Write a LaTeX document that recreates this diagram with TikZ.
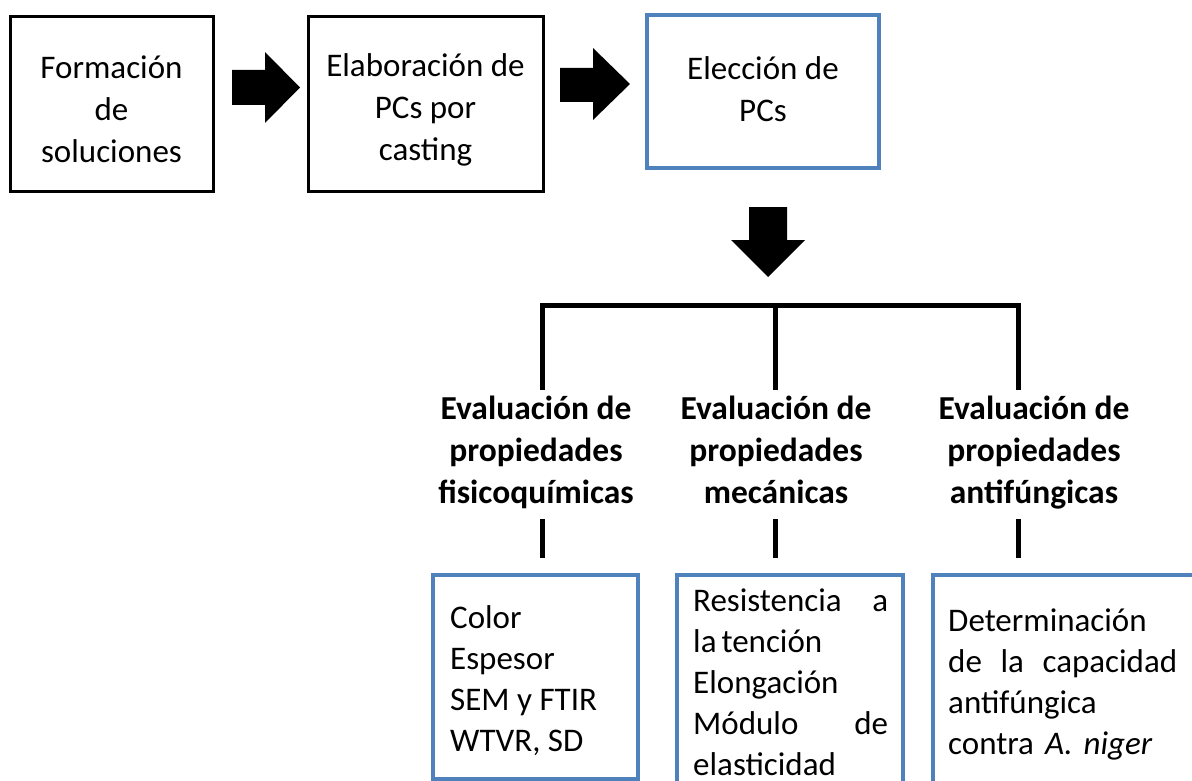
\documentclass[tikz,border=0pt]{standalone}
\usepackage{fontspec}
\setmainfont{Carlito}
\definecolor{boxblue}{RGB}{79,129,189}
\begin{document}
\begin{tikzpicture}[x=1pt,y=-1pt,
  txt/.style={font=\fontsize{33}{42}\selectfont},
  blackbox/.style={draw=black, line width=3pt, inner sep=0pt},
  bluebox/.style={draw=boxblue, line width=4pt, inner sep=0pt},
  boxlabel/.style={txt, align=center, inner sep=0pt},
  head/.style={font=\bfseries\fontsize{33.5}{42}\selectfont, align=center, inner sep=0pt},
  boxtext/.style={font=\fontsize{33}{41}\selectfont, anchor=north west, inner sep=0pt, align=left},
  link/.style={line width=5pt, line join=miter},
  blockarrow/.style={fill=black}]
\useasboundingbox (0,0) rectangle (1192,781);
\clip (0,0) rectangle (1192,781);
\fill[white] (0,0) rectangle (1192,781);

% top row
\node[blackbox, minimum width=203pt, minimum height=175pt] (f) at (111.5,104.5) {};
\node[boxlabel] (fl) at ([yshift=-5pt]f.center) {Formación\\de\\soluciones};
\node[blackbox, minimum width=235pt, minimum height=175pt] (e) at (425.5,104.5) {};
\node[boxlabel] (el) at ([yshift=-5pt]e.center) {Elaboración de\\PCs por\\casting};
\node[bluebox, minimum width=232pt, minimum height=153pt] (c) at (763,91.5) {};
\node[boxlabel] (cl) at ([yshift=2pt]c.center) {Elección de\\PCs};

% block arrows
\fill[blockarrow] (232,70) -- (265,70) -- (265,52) -- (300,87.5) -- (265,123) -- (265,105) -- (232,105) -- cycle;
\fill[blockarrow] (560,68) -- (593,68) -- (593,48) -- (630,84) -- (593,120) -- (593,102) -- (560,102) -- cycle;
\fill[blockarrow] (749,207) -- (787,207) -- (787,240) -- (805,240) -- (768,277) -- (731,240) -- (749,240) -- cycle;

% headings
\node[head] (h1) at (536,453) {\strut Evaluación de\\propiedades\\fisicoquímicas\strut};
\node[head] (h2) at (776,453) {\strut Evaluación de\\propiedades\\mecánicas\strut};
\node[head] (h3) at (1034,453) {\strut Evaluación de\\propiedades\\antifúngicas\strut};

% junction coordinates
\coordinate (j1) at (542,305);
\coordinate (j2) at (775,305);
\coordinate (j3) at (1018,305);

% bottom boxes
\node[bluebox, minimum width=205pt, minimum height=204pt] (b1) at (535.5,677) {};
\node[bluebox, minimum width=226pt, minimum height=255pt] (b2) at (790,702.5) {};
\node[bluebox, minimum width=307pt, minimum height=255pt] (b3) at (1086.5,702.5) {};

% tree connectors
\draw[link] (h1.north -| j1) -- (j1) -- (j3) -- (h3.north -| j3);
\draw[link] (j2) -- (h2.north -| j2);
\draw[link, shorten <=3pt, shorten >=15pt] (h1.south -| j1) -- (b1.north -| j1);
\draw[link, shorten <=3pt, shorten >=15pt] (h2.south -| j2) -- (b2.north -| j2);
\draw[link, shorten <=3pt, shorten >=15pt] (h3.south -| j3) -- (b3.north -| j3);

% bottom box texts
\node[boxtext] (t1) at (450,600) {\strut Color\\Espesor\\SEM y FTIR\\WTVR, SD};
\node[boxtext, text width=195pt] (t2) at (693,583) {\strut Resistencia \hfill a\\la\kern5pt tención\\Elongación\\Módulo \hfill de\\elasticidad};
\node[boxtext, text width=229pt] (t3) at (948,603) {\strut Determinación\\de \hfill la \hfill capacidad\\antifúngica\\contra \textit{A. niger}};
\end{tikzpicture}
\end{document}
